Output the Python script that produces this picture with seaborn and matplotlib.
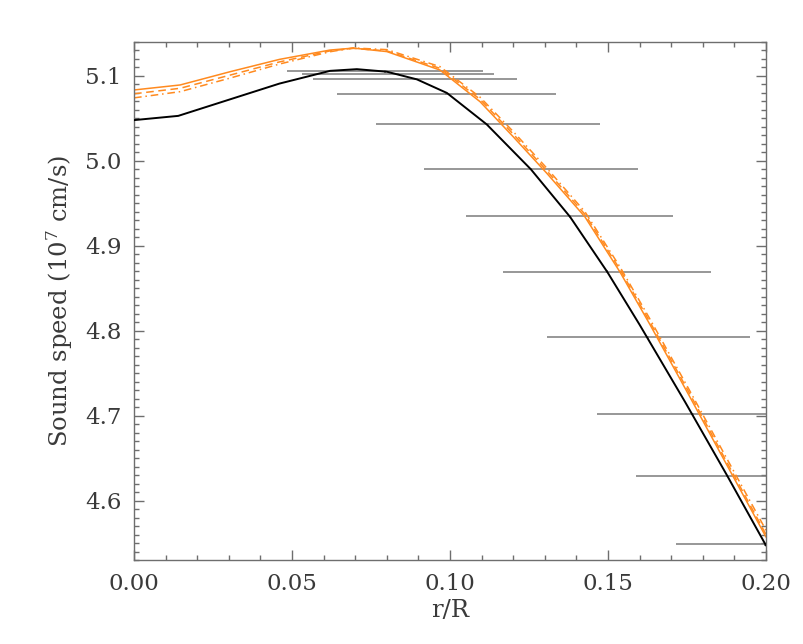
import pandas as pd
import matplotlib
matplotlib.use("Agg")
import matplotlib.pyplot as plt
import seaborn as sns
from matplotlib.ticker import MultipleLocator, FormatStrFormatter

# Modelo solar (curva preta)
r_black = [0.0, 0.014, 0.030, 0.046, 0.062, 0.0705, 0.080, 0.0895, 0.099,
           0.1116, 0.1256, 0.138, 0.1498, 0.160, 0.1744, 0.1876, 0.2]
c_black = [5.048, 5.053, 5.072, 5.091, 5.106, 5.108, 5.105, 5.096, 5.080,
           5.043, 4.990, 4.934, 4.869, 4.807, 4.716, 4.630, 4.547]

# Modelos alternativos (laranja)
r_orange = [0.0, 0.0146, 0.0304, 0.046, 0.062, 0.0694, 0.080, 0.0968, 0.1095,
            0.120, 0.1306, 0.1427, 0.1538, 0.1633, 0.1759, 0.2]
c_solid = [5.0835, 5.0894, 5.1050, 5.1195, 5.1305, 5.1328, 5.1287, 5.1070, 5.0697,
           5.0284, 4.9855, 4.9340, 4.8690, 4.8070, 4.7220, 4.557]
c_dash = [5.0790, 5.0855, 5.1010, 5.1165, 5.1295, 5.1325, 5.1295, 5.1090, 5.0725,
          5.0315, 4.9885, 4.9370, 4.8720, 4.8100, 4.7255, 4.560]
c_dashdot = [5.0742, 5.0815, 5.0975, 5.1140, 5.1285, 5.1330, 5.1310, 5.1110, 5.0750,
             5.0345, 4.9915, 4.9400, 4.8750, 4.8135, 4.7290, 4.565]

# Resultados de inversao (barras horizontais = resolucao)
r_inv = [0.0793, 0.0835, 0.0890, 0.0988, 0.1119, 0.1257, 0.1379, 0.1498, 0.1628,
         0.1768, 0.1876, 0.1998]
c_inv = [5.1053, 5.1022, 5.0965, 5.0788, 5.0433, 4.9902, 4.9346, 4.8696, 4.7922,
         4.7022, 4.6288, 4.5485]
r_half = [0.0310, 0.0304, 0.0323, 0.0347, 0.0354, 0.0338, 0.0328, 0.0329, 0.0322,
          0.0304, 0.0286, 0.0283]
c_err = [0.0015] * len(r_inv)

df_black = pd.DataFrame({"r": r_black, "c": c_black})
df_orange = pd.DataFrame({"r": r_orange, "solid": c_solid, "dash": c_dash, "dashdot": c_dashdot})

sns.set_style("ticks")
plt.rcParams["font.family"] = ["DejaVu Serif"]
plt.rcParams["mathtext.fontset"] = "dejavuserif"

fig = plt.figure(figsize=(8.04, 6.44), dpi=100)
ax = fig.add_axes([0.1667, 0.1304, 0.7861, 0.8044])

orange = "#ff8a1f"
ax.errorbar(r_inv, c_inv, xerr=r_half, yerr=c_err, fmt="none", ecolor="#7a7a7a",
            elinewidth=1.1, capsize=0, zorder=1)
sns.lineplot(data=df_orange, x="r", y="solid", color=orange, lw=1.1, ax=ax, zorder=2)
sns.lineplot(data=df_orange, x="r", y="dash", color=orange, lw=1.1, ax=ax,
             linestyle=(0, (5, 3)), zorder=2)
sns.lineplot(data=df_orange, x="r", y="dashdot", color=orange, lw=1.1, ax=ax,
             linestyle=(0, (5, 2.5, 1, 2.5)), zorder=2)
sns.lineplot(data=df_black, x="r", y="c", color="black", lw=1.4, ax=ax, zorder=3)

ax.set_xlim(0.0, 0.2)
ax.set_ylim(4.53, 5.14)
ax.xaxis.set_major_locator(MultipleLocator(0.05))
ax.xaxis.set_minor_locator(MultipleLocator(0.01))
ax.yaxis.set_major_locator(MultipleLocator(0.1))
ax.yaxis.set_minor_locator(MultipleLocator(0.01))
ax.xaxis.set_major_formatter(FormatStrFormatter("%.2f"))
ax.yaxis.set_major_formatter(FormatStrFormatter("%.1f"))

txt = "#3a3a3a"
for s in ax.spines.values():
    s.set_visible(True)
    s.set_color("#6e6e6e")
    s.set_linewidth(1.0)
ax.tick_params(which="both", direction="in", top=True, right=True, color="#6e6e6e",
               labelcolor=txt, labelsize=16.5, pad=9)
ax.tick_params(which="major", length=7, width=1)
ax.tick_params(which="minor", length=3.5, width=1)

ax.set_xlabel("r/R", fontsize=17.5, color=txt, labelpad=3)
ax.set_ylabel("Sound speed (10$^7$ cm/s)", fontsize=17.5, color=txt, labelpad=7)

fig.savefig("out.png", dpi=100)
